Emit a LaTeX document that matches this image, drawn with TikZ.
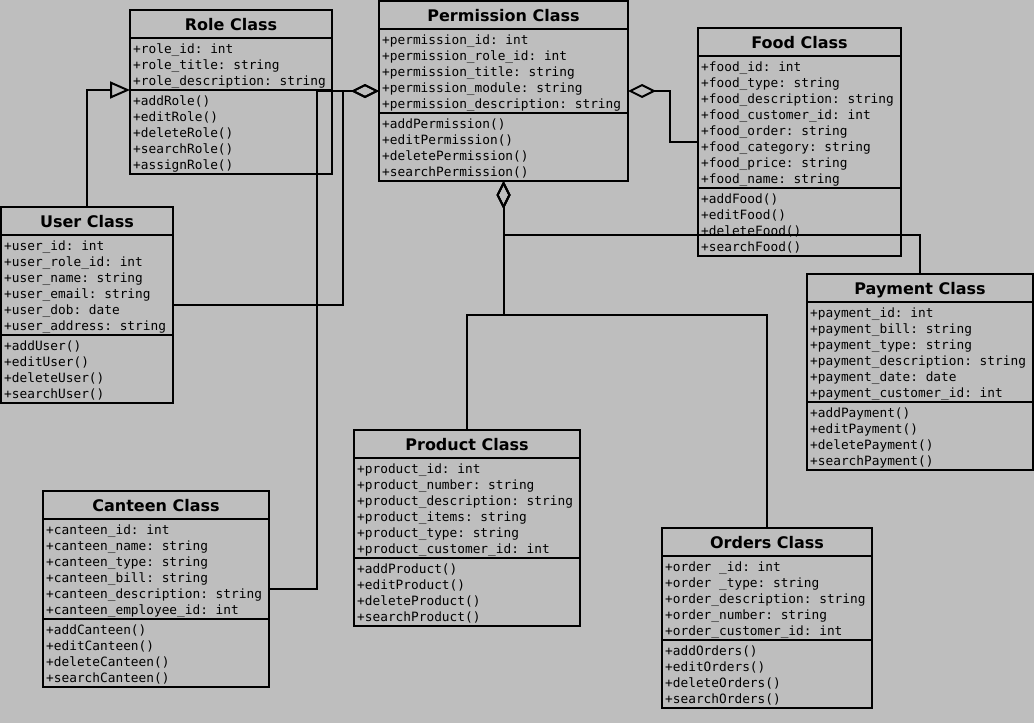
\documentclass[tikz,border=0pt]{standalone}
\usepackage{fontspec}
\setmonofont{DejaVu Sans Mono}
\newfontfamily\headfont{DejaVu Sans}
\usetikzlibrary{arrows.meta,calc}
\definecolor{bggray}{RGB}{190,190,190}

% one class box: name, x, y, width, title, #attrs, attrs, #ops, ops
\newcommand{\umlclass}[9]{%
  \pgfmathsetmacro{\clsattr}{32+16*#6}%
  \pgfmathsetmacro{\clsall}{\clsattr+4+16*#8}%
  \node[classbox, minimum width=#4, minimum height=\clsall] (#1) at (#2,#3) {};
  \node[classname] (#1-name) at ($(#1.north)+(0,20)$) {#5};
  \draw[classline] ($(#1.north west)+(0,28)$) -- ($(#1.north east)+(0,28)$);
  \coordinate (#1-split) at ($(#1.north west)+(0,\clsattr)$);
  \draw[classline] (#1-split) -- ($(#1.north east)+(0,\clsattr)$);
  \node[members] (#1-attr) at ($(#1.north west)+(3,33.4)$) {#7};
  \node[members] (#1-ops) at ($(#1.north west)+(3,\clsattr+5.4)$) {#9};
}

\begin{document}
\begin{tikzpicture}[x=1pt, y=-1pt,
    classbox/.style={draw, line width=2pt, anchor=north west, inner sep=0pt, outer sep=0pt},
    classline/.style={line width=2pt},
    classname/.style={anchor=base, inner sep=0pt, font=\headfont\bfseries\fontsize{16}{19}\selectfont},
    members/.style={anchor=north west, inner sep=0pt, align=left,
      font=\ttfamily\fontsize{12.8}{16}\selectfont, execute at begin node=\strut},
    aggregate/.style={line width=2pt, -{Diamond[open, length=28pt, width=14pt]}},
    inherit/.style={line width=2pt, -{Triangle[open, length=20pt, width=17pt]}}]
    \useasboundingbox[fill=bggray] (0,0) rectangle (1034,723);

    \umlclass{role}{130}{10}{202}{Role Class}{3}%
      {+role\_id: int\\+role\_title: string\\+role\_description: string}{5}%
      {+addRole()\\+editRole()\\+deleteRole()\\+searchRole()\\+assignRole()}
    \umlclass{permission}{379}{1}{249}{Permission Class}{5}%
      {+permission\_id: int\\+permission\_role\_id: int\\+permission\_title: string\\+permission\_module: string\\+permission\_description: string}{4}%
      {+addPermission()\\+editPermission()\\+deletePermission()\\+searchPermission()}
    \umlclass{food}{698}{28}{203}{Food Class}{8}%
      {+food\_id: int\\+food\_type: string\\+food\_description: string\\+food\_customer\_id: int\\+food\_order: string\\+food\_category: string\\+food\_price: string\\+food\_name: string}{4}%
      {+addFood()\\+editFood()\\+deleteFood()\\+searchFood()}
    \umlclass{user}{1}{207}{172}{User Class}{6}%
      {+user\_id: int\\+user\_role\_id: int\\+user\_name: string\\+user\_email: string\\+user\_dob: date\\+user\_address: string}{4}%
      {+addUser()\\+editUser()\\+deleteUser()\\+searchUser()}
    \umlclass{payment}{807}{274}{226}{Payment Class}{6}%
      {+payment\_id: int\\+payment\_bill: string\\+payment\_type: string\\+payment\_description: string\\+payment\_date: date\\+payment\_customer\_id: int}{4}%
      {+addPayment()\\+editPayment()\\+deletePayment()\\+searchPayment()}
    \umlclass{product}{354}{430}{226}{Product Class}{6}%
      {+product\_id: int\\+product\_number: string\\+product\_description: string\\+product\_items: string\\+product\_type: string\\+product\_customer\_id: int}{4}%
      {+addProduct()\\+editProduct()\\+deleteProduct()\\+searchProduct()}
    \umlclass{canteen}{43}{491}{226}{Canteen Class}{6}%
      {+canteen\_id: int\\+canteen\_name: string\\+canteen\_type: string\\+canteen\_bill: string\\+canteen\_description: string\\+canteen\_employee\_id: int}{4}%
      {+addCanteen()\\+editCanteen()\\+deleteCanteen()\\+searchCanteen()}
    \umlclass{orders}{662}{528}{210}{Orders Class}{5}%
      {+order \_id: int\\+order \_type: string\\+order\_description: string\\+order\_number: string\\+order\_customer\_id: int}{4}%
      {+addOrders()\\+editOrders()\\+deleteOrders()\\+searchOrders()}

    % connection points on the permission box
    \coordinate (perm-l) at ($(permission.north west)+(0,90)$);
    \coordinate (perm-r) at ($(permission.north east)+(0,90)$);
    \coordinate (payjoin) at ($(permission.south)+(0,54)$);
    \coordinate (hub) at ($(permission.south)+(0,134)$);

    \draw[inherit] (user.north) |- (role-split);
    \draw[aggregate] (user.east) -| ($(perm-l)+(-36,0)$) -- (perm-l);
    \draw[aggregate] (canteen.east) -| ($(perm-l)+(-62,0)$) -- (perm-l);
    \draw[aggregate] (food.west) -| ($(perm-r)+(42,0)$) -- (perm-r);
    \draw[aggregate] (payment.north) |- (payjoin) -- (permission.south);
    \draw[aggregate] (product.north) |- (hub) -- (permission.south);
    \draw[aggregate] (orders.north) |- (hub) -- (permission.south);
\end{tikzpicture}
\end{document}
